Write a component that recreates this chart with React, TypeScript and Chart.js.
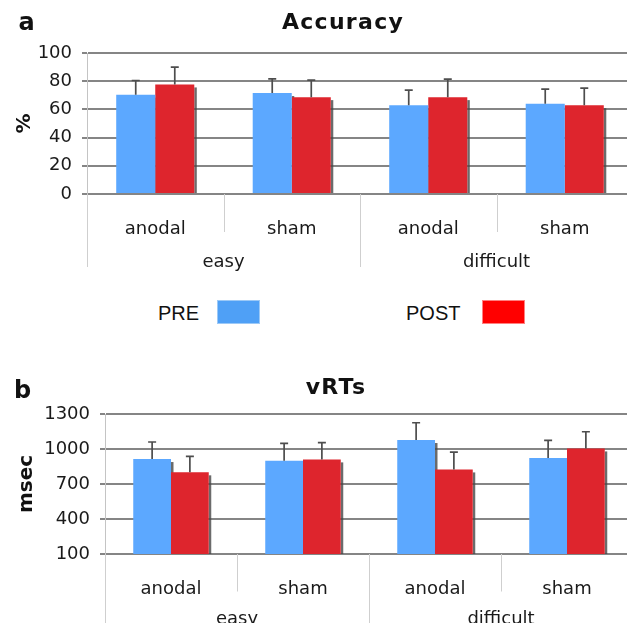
import React, { useEffect, useRef } from 'react';
import { Chart, registerables } from 'chart.js';

Chart.register(...registerables);

// ---------- data ----------
const conditions = ['anodal', 'sham', 'anodal', 'sham'];
const difficulties = ['easy', 'difficult'];
const seriesNames = ['PRE', 'POST'];

const accuracyPre = [70.4, 71.6, 63.0, 64.0];
const accuracyPreSD = [10.1, 10.1, 10.7, 10.4];
const accuracyPost = [77.7, 68.7, 68.7, 63.0];
const accuracyPostSD = [12.3, 12.1, 12.8, 12.1];
const accuracyTicks = [0, 20, 40, 60, 80, 100];

const vrtPre = [914, 900, 1077, 923];
const vrtPreSD = [146, 148, 148, 151];
const vrtPost = [800, 911, 825, 1005];
const vrtPostSD = [137, 143, 149, 143];
const vrtTicks = [100, 400, 700, 1000, 1300];

// ---------- styles ----------
const PRE_COLOR = '#5ca8ff';
const POST_COLOR = '#de252d';
const FONT = "'DejaVu Sans', Verdana, sans-serif";

const barDecor = {
  id: 'barDecor',
  beforeDatasetsDraw(chart: any) {
    const ctx = chart.ctx;
    const a = chart.chartArea;
    ctx.save();
    ctx.beginPath();
    ctx.rect(a.left, a.top, a.right - a.left, a.bottom - a.top);
    ctx.clip();
    ctx.fillStyle = 'rgba(70,70,70,0.8)';
    chart.data.datasets.forEach((_ds: any, i: number) => {
      const meta = chart.getDatasetMeta(i);
      meta.data.forEach((bar: any) => {
        const { x, y, base, width } = bar.getProps(['x', 'y', 'base', 'width'], true);
        const b = Math.min(base, a.bottom);
        ctx.fillRect(x + width / 2, y + 3, 2.5, b - y - 3);
      });
    });
    ctx.restore();
  },
  afterDatasetsDraw(chart: any) {
    const ctx = chart.ctx;
    const ys = chart.scales.y;
    ctx.save();
    ctx.strokeStyle = '#4d4d4d';
    ctx.lineWidth = 1.7;
    chart.data.datasets.forEach((ds: any, i: number) => {
      const meta = chart.getDatasetMeta(i);
      meta.data.forEach((bar: any, j: number) => {
        const { x, y } = bar.getProps(['x', 'y'], true);
        const top = ys.getPixelForValue(ds.data[j] + ds.sd[j]);
        ctx.beginPath();
        ctx.moveTo(x, y);
        ctx.lineTo(x, top);
        ctx.moveTo(x - 4, top);
        ctx.lineTo(x + 4, top);
        ctx.stroke();
      });
    });
    ctx.restore();
  },
};

const dividers = {
  id: 'dividers',
  afterDraw(chart: any, _args: any, opts: any) {
    const xs = chart.scales.x;
    const n = xs.getLabels().length;
    const per = n / difficulties.length;
    const step = (xs.right - xs.left) / n;
    const b = chart.chartArea.bottom;
    const ctx = chart.ctx;
    ctx.save();
    ctx.strokeStyle = '#cfcfcf';
    ctx.lineWidth = 1;
    for (let i = 0; i <= n; i++) {
      const len = i % per === 0 ? opts.outerLen : opts.innerLen;
      const x = Math.round(xs.left + i * step) + 0.5;
      ctx.beginPath();
      ctx.moveTo(x, b);
      ctx.lineTo(x, b + len);
      ctx.stroke();
    }
    ctx.restore();
  },
};

type Cfg = {
  top: number;
  height: number;
  topPad: number;
  yWidth: number;
  xHeight: number;
  x2Height: number;
  x2Pad: number;
  innerLen: number;
  outerLen: number;
  yTitlePad: number;
};

function BarPanel(props: {
  pre: number[];
  preSD: number[];
  post: number[];
  postSD: number[];
  ticks: number[];
  yTitle: string;
  cfg: Cfg;
}) {
  const ref = useRef<HTMLCanvasElement | null>(null);
  const { pre, preSD, post, postSD, ticks, yTitle, cfg } = props;

  useEffect(() => {
    if (!ref.current) return;
    const chart = new Chart(ref.current, {
      type: 'bar',
      data: {
        labels: conditions,
        datasets: [
          { label: seriesNames[0], data: pre, sd: preSD, backgroundColor: PRE_COLOR, borderWidth: 0 } as any,
          { label: seriesNames[1], data: post, sd: postSD, backgroundColor: POST_COLOR, borderWidth: 0 } as any,
        ],
      },
      options: {
        responsive: false,
        animation: false,
        devicePixelRatio: 1,
        layout: { padding: { top: cfg.topPad, left: 0, right: 7, bottom: 0 } },
        datasets: { bar: { categoryPercentage: 0.572, barPercentage: 1.0 } },
        plugins: {
          legend: { display: false },
          tooltip: { enabled: false },
          title: { display: false },
          dividers: { innerLen: cfg.innerLen, outerLen: cfg.outerLen },
        } as any,
        scales: {
          x: {
            type: 'category',
            position: 'bottom',
            offset: true,
            grid: { display: false },
            border: { display: false },
            ticks: {
              color: '#1a1a1a',
              font: { family: FONT, size: 18 },
              padding: 17,
              maxRotation: 0,
              autoSkip: false,
            },
            afterFit: (s: any) => {
              s.height = cfg.xHeight;
            },
          },
          x2: {
            type: 'category',
            position: 'bottom',
            labels: difficulties,
            offset: true,
            grid: { display: false },
            border: { display: false },
            ticks: {
              color: '#1a1a1a',
              font: { family: FONT, size: 18 },
              padding: cfg.x2Pad,
              maxRotation: 0,
              autoSkip: false,
            },
            afterFit: (s: any) => {
              s.height = cfg.x2Height;
            },
          },
          y: {
            min: ticks[0],
            max: ticks[ticks.length - 1],
            ticks: {
              stepSize: ticks[1] - ticks[0],
              color: '#1a1a1a',
              font: { family: FONT, size: 18 },
              padding: 10,
              callback: (v: any) => String(v),
            },
            grid: { color: '#858585', lineWidth: 2, tickLength: 5 },
            border: { display: true, color: '#c4c4c4', width: 1 },
            title: {
              display: true,
              text: yTitle,
              color: '#111',
              font: { family: FONT, size: 20, weight: 'bold' },
              padding: { top: cfg.yTitlePad, bottom: 0 },
            },
            afterFit: (s: any) => {
              s.width = cfg.yWidth;
            },
          },
        } as any,
      },
      plugins: [barDecor, dividers],
    });
    return () => chart.destroy();
  }, []);

  return (
    <canvas
      ref={ref}
      width={640}
      height={cfg.height}
      style={{ position: 'absolute', left: 0, top: cfg.top, display: 'block' }}
    />
  );
}

const cfgA: Cfg = {
  top: 0,
  height: 280,
  topPad: 53,
  yWidth: 87,
  xHeight: 46,
  x2Height: 40,
  x2Pad: 3.5,
  innerLen: 38,
  outerLen: 73,
  yTitlePad: 13,
};

const cfgB: Cfg = {
  top: 350,
  height: 290,
  topPad: 64,
  yWidth: 105,
  xHeight: 44,
  x2Height: 42,
  x2Pad: 3,
  innerLen: 37.5,
  outerLen: 200,
  yTitlePad: 15,
};

const textBase: React.CSSProperties = {
  position: 'absolute',
  fontFamily: FONT,
  lineHeight: 1,
  color: '#111',
  whiteSpace: 'nowrap',
};

export default function App() {
  return (
    <div
      style={{
        position: 'fixed',
        left: 0,
        top: 0,
        width: 627,
        height: 623,
        overflow: 'hidden',
        background: '#fff',
      }}
    >
      <BarPanel
        pre={accuracyPre}
        preSD={accuracyPreSD}
        post={accuracyPost}
        postSD={accuracyPostSD}
        ticks={accuracyTicks}
        yTitle="%"
        cfg={cfgA}
      />
      <BarPanel
        pre={vrtPre}
        preSD={vrtPreSD}
        post={vrtPost}
        postSD={vrtPostSD}
        ticks={vrtTicks}
        yTitle="msec"
        cfg={cfgB}
      />

      <div style={{ ...textBase, left: 18.5, top: 9.7, fontSize: 24, fontWeight: 'bold' }}>a</div>
      <div
        style={{
          ...textBase,
          left: 243,
          width: 200,
          top: 11.4,
          fontSize: 22,
          fontWeight: 'bold',
          letterSpacing: '1.3px',
          textAlign: 'center',
        }}
      >
        Accuracy
      </div>

      <div style={{ ...textBase, left: 14, top: 377.7, fontSize: 24, fontWeight: 'bold' }}>b</div>
      <div
        style={{
          ...textBase,
          left: 236,
          width: 200,
          top: 376.4,
          fontSize: 22,
          fontWeight: 'bold',
          letterSpacing: '1.3px',
          textAlign: 'center',
        }}
      >
        vRTs
      </div>

      {/* legend */}
      <div style={{ ...textBase, left: 158, top: 303, fontSize: 20, fontFamily: "'Liberation Sans', Arial, sans-serif" }}>
        {seriesNames[0]}
      </div>
      <div
        style={{
          position: 'absolute',
          left: 217,
          top: 300,
          width: 41,
          height: 22,
          background: '#4fa0f6',
          border: '1px solid #9cc9f7',
        }}
      />
      <div style={{ ...textBase, left: 406, top: 303, fontSize: 20, fontFamily: "'Liberation Sans', Arial, sans-serif" }}>
        {seriesNames[1]}
      </div>
      <div
        style={{
          position: 'absolute',
          left: 482,
          top: 300,
          width: 41,
          height: 22,
          background: '#ff0000',
          border: '1px solid #ff8080',
        }}
      />
    </div>
  );
}
